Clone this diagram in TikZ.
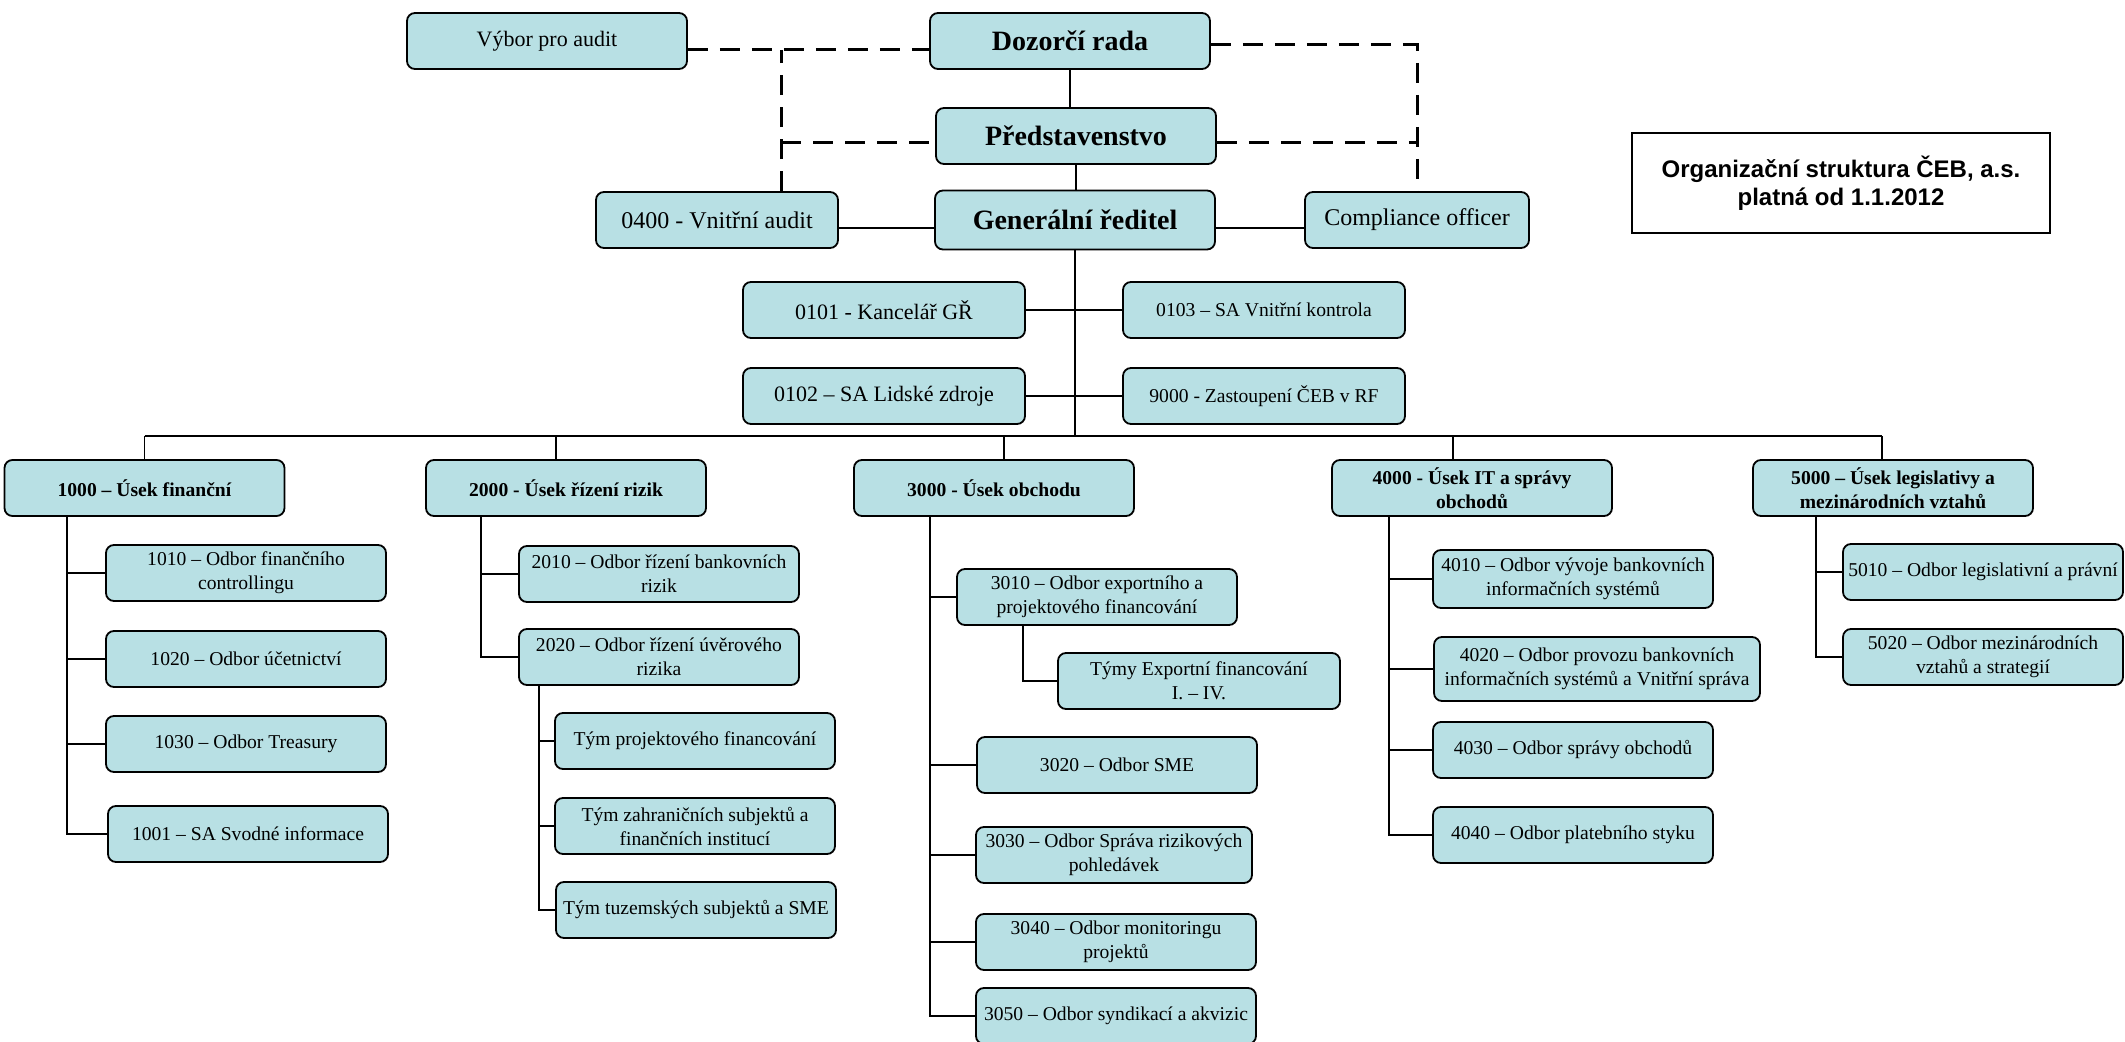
\documentclass[tikz,border=0pt]{standalone}
\usepackage{fontspec}
\setmainfont{Liberation Serif}
\newfontfamily\headfont{Liberation Sans}
\usepackage{tikz}

\definecolor{boxfill}{RGB}{184,224,228}

\tikzset{
    orgbox/.style={draw=black, line width=0.9pt, fill=boxfill, rounded corners=4pt, align=center,
        inner sep=1pt, minimum width=140pt, minimum height=28pt, font=\fontsize{9.8}{12}\selectfont},
    topbox/.style={orgbox, font=\fontsize{14}{16}\selectfont\bfseries},
    divbox/.style={orgbox, font=\fontsize{9.8}{12}\selectfont\bfseries},
    conn/.style={line width=0.7pt},
    thickconn/.style={line width=1.4pt},
    dashconn/.style={line width=1.5pt, dash pattern=on 10pt off 6pt}
}

\begin{document}
\begin{tikzpicture}[x=0.5pt, y=-0.5pt]
    \useasboundingbox (0,0) rectangle (2125,1042);

    \node[orgbox, font=\fontsize{11}{13}\selectfont] (vybor) at (547,41) {Výbor pro audit};
    \node[topbox] (dozorci) at (1070,41) {Dozorčí rada};
    \node[topbox] (predst) at (1076,136) {Představenstvo};
    \node[topbox, minimum height=29.5pt] (gr) at (1075,220) {Generální ředitel};
    \node[orgbox, minimum width=121pt, font=\fontsize{12}{14}\selectfont] (audit) at (717,220) {0400 - Vnitřní audit};
    \node[orgbox, minimum width=112pt, font=\fontsize{12}{14}\selectfont] (compl) at (1417,220) {Compliance officer};

    \node[draw, line width=0.7pt, minimum width=209pt, minimum height=50pt, align=center,
        font=\headfont\bfseries\fontsize{12}{14}\selectfont] (title) at (1841,183)
        {Organizační struktura ČEB, a.s.\\platná od 1.1.2012};

    \node[orgbox, minimum width=141pt, font=\fontsize{11}{13}\selectfont] (k0101) at (884,310) {0101 - Kancelář GŘ};
    \node[orgbox, minimum width=141pt] (k0103) at (1264,310) {0103 – SA Vnitřní kontrola};
    \node[orgbox, minimum width=141pt, font=\fontsize{11}{13}\selectfont] (k0102) at (884,396) {0102 – SA Lidské zdroje};
    \node[orgbox, minimum width=141pt] (k9000) at (1264,396) {9000 - Zastoupení ČEB v RF};

    \node[divbox] (u1000) at (144.5,488) {1000 – Úsek finanční};
    \node[divbox] (u2000) at (566,488) {2000 - Úsek řízení rizik};
    \node[divbox] (u3000) at (994,488) {3000 - Úsek obchodu};
    \node[divbox] (u4000) at (1472,488) {4000 - Úsek IT a správy\\obchodů};
    \node[divbox] (u5000) at (1893,488) {5000 – Úsek legislativy a\\mezinárodních vztahů};

    \node[orgbox] (o1010) at (246,573) {1010 – Odbor finančního\\controllingu};
    \node[orgbox] (o1020) at (246,659) {1020 – Odbor účetnictví};
    \node[orgbox] (o1030) at (246,744) {1030 – Odbor Treasury};
    \node[orgbox] (o1001) at (248,834) {1001 – SA Svodné informace};

    \node[orgbox] (o2010) at (659,574) {2010 – Odbor řízení bankovních\\rizik};
    \node[orgbox] (o2020) at (659,657) {2020 – Odbor řízení úvěrového\\rizika};
    \node[orgbox] (tym2a) at (695,741) {Tým projektového financování};
    \node[orgbox] (tym2b) at (695,826) {Tým zahraničních subjektů a\\finančních institucí};
    \node[orgbox] (tym2c) at (696,910) {Tým tuzemských subjektů a SME};

    \node[orgbox] (o3010) at (1097,597) {3010 – Odbor exportního a\\projektového financování};
    \node[orgbox, minimum width=141pt] (tym3) at (1199,681) {Týmy Exportní financování\\I. – IV.};
    \node[orgbox] (o3020) at (1117,765) {3020 – Odbor SME};
    \node[orgbox, minimum width=138pt] (o3030) at (1114,855) {3030 – Odbor Správa rizikových\\pohledávek};
    \node[orgbox] (o3040) at (1116,942) {3040 – Odbor monitoringu\\projektů};
    \node[orgbox] (o3050) at (1116,1016) {3050 – Odbor syndikací a akvizic};

    \node[orgbox, minimum height=29pt] (o4010) at (1573,579) {4010 – Odbor vývoje bankovních\\informačních systémů};
    \node[orgbox, minimum width=163pt, minimum height=32pt] (o4020) at (1597,669) {4020 – Odbor provozu bankovních\\informačních systémů a Vnitřní správa};
    \node[orgbox] (o4030) at (1573,750) {4030 – Odbor správy obchodů};
    \node[orgbox] (o4040) at (1573,835) {4040 – Odbor platebního styku};

    \node[orgbox] (o5010) at (1983,572) {5010 – Odbor legislativní a právní};
    \node[orgbox] (o5020) at (1983,657) {5020 – Odbor mezinárodních\\vztahů a strategií};

    \coordinate (vl) at ([yshift=-4.5pt]vybor.east);
    \coordinate (al) at ([xshift=32pt]audit.north);
    \coordinate (dr) at ([yshift=-2pt]dozorci.east);
    \coordinate (pl) at ([yshift=-3.5pt]predst.west);
    \coordinate (pr) at ([yshift=-3.5pt]predst.east);
    \draw[dashconn] (vl) -- (vl -| dozorci.west);
    \draw[dashconn] (al) -- (al |- vl);
    \draw[dashconn] (al |- pl) -- (pl);
    \draw[dashconn] (dr) -| (compl.north);
    \draw[dashconn] (pr) -- (pr -| compl.north);

    \draw[conn] (dozorci.south) -- (dozorci.south |- predst.north);
    \draw[conn] (predst.south) -- (predst.south |- gr.north);
    \draw[thickconn] ([yshift=-4pt]audit.east) -- ([yshift=-4pt]gr.west);
    \draw[thickconn] ([yshift=-4pt]gr.east) -- ([yshift=-4pt]compl.west);

    \coordinate (bus) at (1079,436);
    \draw[conn] (gr.south) -- (gr.south |- bus);
    \draw[conn] (k0101) -- (k0103);
    \draw[conn] (k0102) -- (k9000);

    \coordinate (d1) at (u1000.north);
    \coordinate (d2) at ([xshift=-5pt]u2000.north);
    \coordinate (d3) at ([xshift=5pt]u3000.north);
    \coordinate (d4) at ([xshift=-9.5pt]u4000.north);
    \coordinate (d5) at ([xshift=-5.5pt]u5000.north);
    \draw[conn] (d1 |- bus) -- (d5 |- bus);
    \foreach \d in {d1,d2,d3,d4,d5}
        \draw[conn] (\d) -- (\d |- bus);

    \coordinate (t1) at ([xshift=-38.75pt]u1000.south);
    \foreach \n in {o1010,o1020,o1030,o1001}
        \draw[conn] (t1) |- (\n);

    \coordinate (t2) at ([xshift=-42.5pt]u2000.south);
    \foreach \n in {o2010,o2020}
        \draw[conn] (t2) |- (\n);
    \coordinate (t22) at ([xshift=-60pt]o2020.south);
    \foreach \n in {tym2a,tym2b,tym2c}
        \draw[conn] (t22) |- (\n);

    \coordinate (t3) at ([xshift=-32pt]u3000.south);
    \foreach \n in {o3010,o3020,o3030,o3040,o3050}
        \draw[conn] (t3) |- (\n);
    \coordinate (t31) at ([xshift=-37pt]o3010.south);
    \draw[conn] (t31) |- (tym3);

    \coordinate (t4) at ([xshift=-41.5pt]u4000.south);
    \foreach \n in {o4010,o4020,o4030,o4040}
        \draw[conn] (t4) |- (\n);

    \coordinate (t5) at ([xshift=-38.5pt]u5000.south);
    \foreach \n in {o5010,o5020}
        \draw[conn] (t5) |- (\n);
\end{tikzpicture}
\end{document}
